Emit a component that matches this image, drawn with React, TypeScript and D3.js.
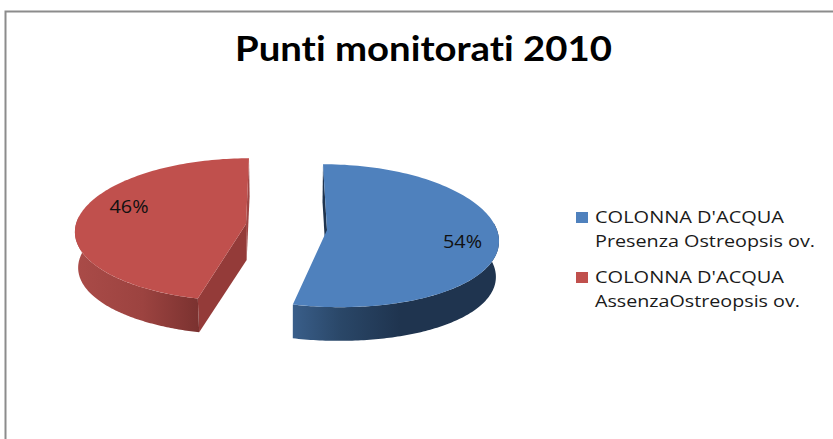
import React from "react";
import * as d3 from "d3";

const categories = ["COLONNA D'ACQUA|Presenza Ostreopsis ov.", "COLONNA D'ACQUA|AssenzaOstreopsis ov."];
const values = [54, 46];
const percentLabels = ["54%", "46%"];
const colors = ["#4f81bd", "#c0504d"];
const titleText = "Punti monitorati 2010";

const W = 833, H = 439;
const rx = 170, ry = 71, depth = 36;
const vx = 290, tx = 0.1, ty = 0.08;
const apexes = [{ x: 327, y: 230 }, { x: 246, y: 224 }];
const leans = [[8.6, 4.6], [-2.2, 0.8]];
const labelPos = [{ x: 462.5, y: 248 }, { x: 129, y: 213 }];
const legendY = [{ s: 212, a: 223, b: 247 }, { s: 272, a: 283, b: 307 }];
const legendWidths = [[189, 220], [189, 205]];

function project(angle: number, frac: number, i: number, lower = false): [number, number] {
  const apex = apexes[i];
  const wx = Math.sin(angle) * frac;
  const wy = -Math.cos(angle) * frac;
  const X = apex.x + (rx * wx) / (1 - tx * wy) + leans[i][0] * wy + leans[i][1] * wy * wy;
  const Y = (ry * wy) / (1 - ty * wy);
  if (lower) return [vx + (X - vx) * 0.985, apex.y + Y * 0.97 + depth];
  return [X, apex.y + Y];
}

const line = d3.line<[number, number]>().curve(d3.curveLinear);

export default function App() {
  const arcs = d3.pie<number>().sort(null)(values);

  const sample = (a0: number, a1: number) => d3.range(0, 121).map((k) => a0 + ((a1 - a0) * k) / 120);

  const topPath = (i: number) => {
    const a = arcs[i];
    const pts = [project(0, 0, i), ...sample(a.startAngle, a.endAngle).map((t) => project(t, 1, i))];
    return line(pts) + "Z";
  };
  const outerWall = (i: number, a0: number, a1: number) => {
    const up = sample(a0, a1).map((t) => project(t, 1, i));
    const lo = sample(a0, a1).map((t) => project(t, 1, i, true)).reverse();
    return line([...up, ...lo]) + "Z";
  };
  const cutWall = (i: number, angle: number) =>
    line([project(0, 0, i), project(angle, 1, i), project(angle, 1, i, true), project(0, 0, i, true)]) + "Z";

  return (
    <svg width={W} height={H} viewBox={`0 0 ${W} ${H}`} style={{ position: "absolute", left: 0, top: 0, background: "#fff" }}>
      <defs>
        <linearGradient id="blueWall" gradientUnits="userSpaceOnUse" x1={291} x2={400} y1={0} y2={0}>
          <stop offset="0" stopColor="#3a5f8b" />
          <stop offset="0.45" stopColor="#2a4768" />
          <stop offset="1" stopColor="#1f344f" />
        </linearGradient>
        <linearGradient id="redWall" gradientUnits="userSpaceOnUse" x1={75} x2={198} y1={0} y2={0}>
          <stop offset="0" stopColor="#aa4b48" />
          <stop offset="0.55" stopColor="#9c4340" />
          <stop offset="1" stopColor="#7b3230" />
        </linearGradient>
      </defs>

      <path d={`M5.5,439V11.5H${W}`} fill="none" stroke="#8c8c8c" strokeWidth={2} />

      <text x={423.5} y={61} textAnchor="middle" fontFamily="Lato, 'Open Sans', sans-serif" fontWeight={700} fontSize={34} textLength={377} lengthAdjust="spacingAndGlyphs" fill="#000" style={{ fontVariantLigatures: "none" }}>
        {titleText}
      </text>

      {/* red slice */}
      <path d={cutWall(1, arcs[1].endAngle)} fill="#a04644" />
      <path d={cutWall(1, arcs[1].startAngle)} fill="#943b39" />
      <path d={outerWall(1, arcs[1].startAngle, (3 * Math.PI) / 2 + 0.1)} fill="url(#redWall)" />
      <path d={topPath(1)} fill={colors[1]} />

      {/* blue slice */}
      <path d={cutWall(0, arcs[0].startAngle)} fill="#1f344f" />
      <path d={outerWall(0, Math.PI / 2 - 0.1, arcs[0].endAngle)} fill="url(#blueWall)" />
      <path d={topPath(0)} fill={colors[0]} />

      {percentLabels.map((t, i) => (
        <text key={t} x={labelPos[i].x} y={labelPos[i].y} textAnchor="middle" fontFamily="'Open Sans', sans-serif" fontSize={18} textLength={39} lengthAdjust="spacingAndGlyphs" fill="#111">
          {t}
        </text>
      ))}

      {categories.map((c, i) => {
        const [a, b] = c.split("|");
        return (
          <g key={c}>
            <rect x={576} y={legendY[i].s} width={12} height={11} fill={colors[i]} />
            <text x={595} y={legendY[i].a} fontFamily="'Open Sans', sans-serif" fontSize={16.5} textLength={legendWidths[i][0]} lengthAdjust="spacingAndGlyphs" fill="#1a1a1a">{a}</text>
            <text x={595} y={legendY[i].b} fontFamily="'Open Sans', sans-serif" fontSize={16.5} textLength={legendWidths[i][1]} lengthAdjust="spacingAndGlyphs" fill="#1a1a1a">{b}</text>
          </g>
        );
      })}
    </svg>
  );
}
